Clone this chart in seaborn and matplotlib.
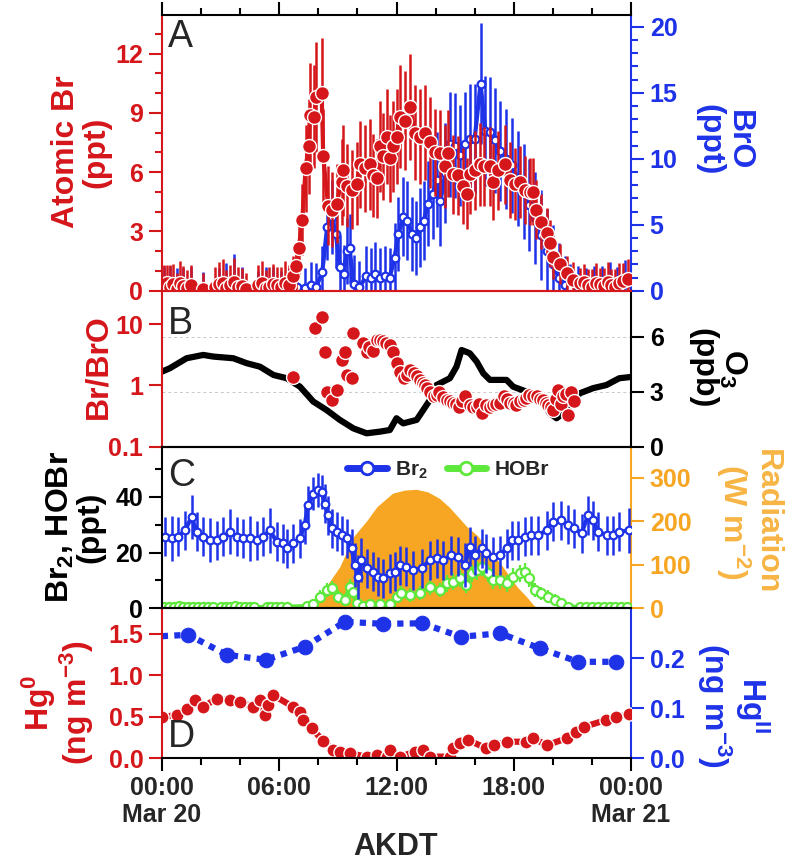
import numpy as np
import pandas as pd
import seaborn as sns
import matplotlib.pyplot as plt
from matplotlib.ticker import MultipleLocator, NullLocator, FixedLocator
from matplotlib.lines import Line2D

# ---- values, time in hours after 00:00 Mar 20 (AKDT) ----

# panel A: atomic Br (ppt, left axis)
br_hour = [0.1, 0.25, 0.4, 0.55, 0.75, 0.9, 1.1, 1.3, 1.5, 2.1, 2.7, 2.9, 3.1, 3.3, 3.5, 3.7, 3.9, 4.1, 4.3,
           4.9, 5.1, 5.3, 5.5, 5.7, 5.9, 6.1, 6.3, 6.5,
           6.7, 6.85, 7.0, 7.18, 7.35, 7.5, 7.57, 7.77, 7.9, 8.17, 8.25, 8.5, 8.68, 8.93, 9.19, 9.28, 9.45, 9.7,
           9.96, 10.13, 10.4, 10.64, 10.8, 11.0, 11.15, 11.3, 11.5, 11.66, 11.83, 12.0, 12.17, 12.43, 12.69,
           12.94, 13.2, 13.45, 13.7, 13.96, 14.22, 14.48, 14.65, 14.9, 15.16, 15.4, 15.6, 15.75, 16.0, 16.27,
           16.5, 16.78, 16.95, 17.2, 17.54, 17.8, 18.05, 18.3, 18.57, 18.82, 19.0, 19.16, 19.4, 19.7, 19.85,
           20.0, 20.36, 20.7, 21.04, 21.38, 21.6, 21.8, 22.0, 22.2, 22.4, 22.6, 22.8, 23.0, 23.2, 23.4, 23.6, 23.85]
br_ppt = [0.3, 0.4, 0.2, 0.35, 0.1, 0.4, 0.25, 0.15, 0.3, 0.1, 0.2, 0.35, 0.4, 0.15, 0.3, 0.45, 0.2, 0.25, 0.1,
          0.3, 0.4, 0.15, 0.2, 0.35, 0.3, 0.2, 0.4, 0.3,
          0.75, 1.25, 2.15, 3.6, 6.2, 7.3, 8.9, 8.8, 9.8, 10.0, 6.8, 4.3, 4.1, 4.4, 5.5, 6.1, 5.3, 5.1,
          5.4, 6.4, 6.2, 6.4, 5.85, 5.7, 7.3, 6.8, 7.8, 6.7, 7.3, 7.8, 8.8, 8.6, 9.3,
          8.0, 7.8, 8.0, 7.5, 7.0, 6.95, 6.3, 6.95, 5.9, 5.85, 5.3, 4.9, 5.9, 6.1, 6.4,
          6.3, 6.3, 5.5, 6.1, 6.4, 5.6, 5.4, 5.5, 5.1, 5.0, 5.0, 4.1, 3.5, 2.9, 2.4,
          1.7, 1.35, 0.88, 0.54, 0.37, 0.45, 0.3, 0.2, 0.4, 0.35, 0.25, 0.45, 0.3, 0.2, 0.4, 0.5, 0.6]
br_err = [1.0, 0.9, 1.1, 1.0, 0.8, 1.1, 1.0, 0.9, 1.0, 0.8, 1.0, 1.1, 1.2, 0.9, 1.0, 1.2, 1.0, 0.9, 0.8,
          1.0, 1.1, 0.9, 1.0, 1.0, 0.9, 1.0, 1.1, 1.0,
          1.0, 1.2, 1.5, 1.8, 2.2, 2.4, 2.6, 2.6, 2.8, 2.8, 2.4, 2.0, 1.9, 2.0, 2.2, 2.3, 2.1, 2.0,
          2.1, 2.2, 2.2, 2.3, 2.1, 2.0, 2.3, 2.2, 2.4, 2.2, 2.3, 2.4, 2.6, 2.5, 2.7,
          2.4, 2.4, 2.4, 2.3, 2.2, 2.2, 2.1, 2.2, 2.0, 2.0, 1.9, 1.8, 2.0, 2.0, 2.1,
          2.0, 2.0, 1.9, 2.0, 2.0, 1.9, 1.8, 1.8, 1.7, 1.7, 1.7, 1.5, 1.4, 1.3, 1.2,
          1.1, 1.0, 0.9, 0.9, 0.8, 0.9, 0.8, 0.9, 1.0, 0.8, 0.9, 1.0, 0.8, 0.9, 1.0, 0.9, 1.0]

# panel A: BrO (ppt, right axis)
bro_hour = [0.1, 0.4, 0.75, 1.1, 1.5, 2.1, 2.9, 3.3, 3.7, 4.1, 4.9, 5.3, 5.7, 6.1, 6.5,
            6.9, 7.3, 7.6, 7.9, 8.2, 8.45, 8.68, 8.9, 9.1, 9.3, 9.45, 9.6, 9.8, 10.1, 10.45, 10.7, 10.9,
            11.15, 11.4, 11.65, 11.9, 12.1, 12.35, 12.55, 12.8, 13.0, 13.2, 13.4, 13.6, 13.85, 14.05, 14.25,
            14.5, 14.75, 15.0, 15.25, 15.5, 15.75, 16.0, 16.3, 16.55, 16.8, 17.05, 17.3, 17.6, 17.9, 18.2,
            18.5, 18.8, 19.1, 19.4, 19.7, 20.0, 20.3, 20.6, 20.9, 21.3, 21.7, 22.1, 22.5, 22.9, 23.3, 23.7]
bro_ppt = [0.3, 0.5, 0.2, 0.4, 0.3, 0.2, 0.3, 0.5, 0.6, 0.3, 0.2, 0.4, 0.3, 0.2, 0.3,
           0.3, 0.2, 0.4, 0.3, 1.4, 4.8, 5.6, 4.3, 1.8, 1.3, 3.0, 3.2, 0.5, 0.25, 1.1, 1.0, 1.3,
           1.0, 1.1, 1.0, 2.5, 4.3, 5.6, 5.3, 4.3, 4.0, 4.8, 5.3, 6.6, 7.3, 8.4, 6.8,
           8.9, 11.1, 11.0, 10.25, 11.1, 11.5, 11.5, 15.7, 12.1, 12.0, 11.4, 10.6, 10.0, 9.5, 8.5,
           7.5, 6.5, 5.5, 4.2, 3.0, 2.0, 1.0, 0.4, 0.2, 0.3, 0.2, 0.4, 0.3, 0.2, 0.3, 0.5]
bro_err = [1.6, 1.4, 1.5, 1.3, 1.5, 1.2, 1.4, 1.6, 2.2, 1.5, 1.3, 1.4, 1.5, 1.3, 1.4,
           1.5, 1.5, 1.8, 1.8, 2.0, 2.5, 2.8, 2.6, 2.4, 2.2, 2.5, 2.6, 2.2, 2.0, 2.3, 2.2, 2.4,
           2.2, 2.3, 2.2, 2.6, 2.8, 3.0, 3.0, 2.8, 2.8, 3.0, 3.0, 3.2, 3.4, 3.6, 3.4,
           3.8, 4.0, 4.0, 3.8, 4.0, 4.2, 4.2, 4.6, 4.2, 4.2, 4.0, 3.8, 3.8, 3.6, 3.6,
           3.6, 3.5, 3.5, 3.4, 3.2, 3.0, 2.6, 2.2, 1.8, 1.6, 1.5, 1.5, 1.6, 2.0, 1.5, 1.8]

# panel B: Br/BrO ratio (left, log) and O3 (ppb, right)
ratio_hour = [6.72, 7.83, 8.17, 8.34, 8.42, 8.68, 8.93, 9.19, 9.36, 9.45, 9.7, 9.79, 10.3, 10.47, 10.6, 10.8,
              11.0, 11.15, 11.3, 11.45, 11.66, 11.83, 12.0, 12.17, 12.4, 12.55, 12.7, 12.9, 13.05, 13.2,
              13.35, 13.45, 13.55, 13.7, 13.9, 14.05, 14.2, 14.4, 14.6, 14.75, 14.9, 15.05, 15.2, 15.35,
              15.5, 15.75, 15.9, 16.1, 16.2, 16.35, 16.6, 16.8, 16.95, 17.1, 17.3, 17.5, 17.65, 17.8, 18.0,
              18.14, 18.3, 18.5, 18.65, 18.8, 19.0, 19.2, 19.35, 19.5, 19.65, 19.76, 19.9, 20.0, 20.15,
              20.27, 20.4, 20.5, 20.65, 20.8, 20.95, 21.1]
ratio = [1.38, 8.5, 13.2, 3.5, 0.79, 0.58, 0.84, 2.6, 3.5, 1.48, 1.3, 7.1, 4.9, 3.5, 4.2, 3.7,
         5.5, 5.6, 5.2, 5.0, 4.6, 3.5, 2.3, 1.67, 1.3, 1.5, 1.8, 1.6, 1.4, 1.23,
         1.1, 1.0, 0.9, 0.79, 0.66, 0.7, 0.79, 0.65, 0.58, 0.55, 0.51, 0.5, 0.45, 0.55,
         0.66, 0.48, 0.45, 0.45, 0.5, 0.35, 0.48, 0.44, 0.48, 0.5, 0.51, 0.66, 0.6, 0.51, 0.52,
         0.48, 0.55, 0.58, 0.62, 0.70, 0.68, 0.66, 0.6, 0.58, 0.52, 0.48, 0.44, 0.40, 0.6,
         0.84, 0.5, 0.66, 0.72, 0.33, 0.79, 0.55]
o3_hour = [0.0, 0.41, 1.26, 2.11, 2.63, 3.65, 4.33, 5.01, 5.7, 6.38, 7.06, 7.74, 8.42, 9.1, 9.79, 10.47,
           11.15, 11.66, 12.0, 12.34, 13.03, 13.37, 13.71, 14.05, 14.73, 15.07, 15.33, 15.75, 16.1, 16.44,
           16.78, 17.63, 17.97, 18.65, 19.33, 19.85, 20.19, 20.53, 21.38, 22.06, 22.74, 23.4, 24.0]
o3_ppb = [4.09, 4.28, 4.82, 5.0, 4.91, 4.82, 4.55, 4.36, 3.91, 3.73, 3.27, 2.46, 2.0, 1.46, 1.0, 0.73,
          0.82, 0.91, 1.55, 1.27, 1.46, 2.0, 2.55, 3.36, 3.73, 4.36, 5.27, 5.09, 4.64, 4.0,
          3.64, 3.64, 3.27, 3.0, 2.55, 1.82, 1.55, 1.82, 2.91, 3.19, 3.36, 3.73, 3.8]

# panel C: Br2, HOBr (ppt, left) and radiation (W m-2, right)
br2_hour = [0.15, 0.5, 0.84, 1.18, 1.52, 1.77, 2.11, 2.45, 2.8, 3.14, 3.48, 3.82, 4.16, 4.5, 4.84, 5.18,
            5.52, 5.87, 6.21, 6.38, 6.72, 7.06, 7.3, 7.48, 7.74, 8.0, 8.17, 8.34, 8.51, 8.68, 8.94, 9.19,
            9.45, 9.7, 9.87, 10.04, 10.2, 10.47, 10.8, 11.07, 11.32, 11.66, 11.92, 12.17, 12.5, 12.85,
            13.28, 13.7, 14.05, 14.39, 14.8, 15.16, 15.5, 15.75, 16.0, 16.35, 16.6, 16.95, 17.29, 17.63,
            17.9, 18.2, 18.57, 18.9, 19.25, 19.7, 20.0, 20.44, 20.78, 21.1, 21.47, 21.8, 22.06, 22.3,
            22.75, 23.1, 23.4, 23.9]
br2_ppt = [25.7, 25.1, 25.7, 28, 32.8, 27.5, 25.7, 24.5, 24.5, 25.7, 27.5, 25.7, 25.1, 25.1, 24.5, 25.7,
           28, 23.9, 23.3, 21.5, 23.3, 25.1, 29.9, 37, 41.2, 42.4, 41.8, 37.6, 33.4, 28.7, 27.5, 26.3,
           25.1, 21.5, 15.5, 11.3, 17.3, 14.3, 13.1, 11.3, 10.7, 12.5, 13.1, 15.5, 14.9, 13.7,
           14.3, 17.3, 17.9, 17.3, 19.1, 18.5, 15.5, 22.1, 19.1, 21.5, 19.7, 18.5, 19.1, 21.5,
           24.5, 24.5, 25.7, 26.3, 26.3, 28, 31.0, 31.6, 29.9, 28.7, 26.9, 33.4, 31.6, 27.5,
           26.3, 26.3, 27.5, 28]
br2_err = [7, 8, 7, 7, 8, 7, 7, 8, 7, 7, 8, 7, 7, 8, 7, 7,
           8, 7, 7, 7, 7, 7, 7, 7, 6, 6, 6, 7, 7, 7, 7, 7,
           7, 7, 8, 8, 8, 7, 7, 7, 7, 7, 7, 7, 7, 7,
           7, 7, 7, 7, 7, 7, 8, 7, 7, 7, 7, 7, 7, 7,
           7, 7, 7, 7, 7, 7, 7, 7, 7, 7, 7, 7, 7, 7,
           7, 7, 7, 8]
hobr_hour = [0.1, 0.35, 0.6, 0.85, 1.1, 1.35, 1.6, 1.85, 2.1, 2.35, 2.6, 3.0, 3.25, 3.5, 3.75, 4.0, 4.25,
             4.5, 4.7, 5.35, 5.6, 5.85, 6.1, 6.38, 7.4, 7.74, 8.08, 8.42, 8.68, 9.0, 9.36, 9.6, 9.79, 9.96,
             10.3, 10.64, 11.15, 11.66, 12.0, 12.25, 12.7, 13.2, 13.7, 14.22, 14.56, 14.9, 15.24, 15.58,
             15.84, 16.1, 16.35, 16.7, 16.95, 17.29, 17.63, 17.97, 18.3, 18.57, 18.8, 19.08, 19.42, 19.76,
             20.1, 20.44, 20.78, 21.4, 21.7, 22.0, 22.3, 22.6, 22.9, 23.2, 23.5, 23.8]
hobr_ppt = [0.5, 0.6, 0.4, 0.7, 0.5, 0.4, 0.6, 0.5, 0.3, 0.6, 0.5, 0.4, 0.6, 0.5, 0.7, 0.4, 0.5,
            0.6, 0.4, 0.5, 0.6, 0.4, 0.5, 0.6, 0.8, 1.4, 4.2, 6.6, 7.2, 4.2, 3.0, 7.8, 6.0, 2.0,
            0.8, 1.4, 1.4, 1.4, 4.2, 5.4, 4.8, 5.4, 7.7, 6.6, 9.0, 9.6, 10.7, 8.4,
            12.5, 13.7, 14.9, 12.5, 10.1, 10.1, 9.0, 11.3, 12.5, 13.1, 10.7, 6.6, 5.4, 4.2,
            3.0, 1.8, 0.6, 0.5, 0.4, 0.6, 0.5, 0.4, 0.6, 0.5, 0.4, 0.5]
hobr_err = [1.0, 1.1, 0.9, 1.0, 1.0, 1.1, 0.9, 1.0, 1.0, 1.0, 0.9, 1.0, 1.1, 1.0, 1.0, 0.9, 1.0,
            1.0, 1.1, 1.0, 1.0, 0.9, 1.0, 1.0, 1.5, 1.8, 2.2, 2.6, 2.6, 2.4, 2.2, 2.6, 2.5, 2.0,
            1.8, 1.8, 1.8, 2.0, 2.3, 2.5, 2.4, 2.5, 2.8, 2.6, 3.0, 3.0, 3.2, 3.0,
            3.2, 3.4, 3.4, 3.2, 3.0, 3.0, 3.0, 3.2, 3.2, 3.3, 3.0, 2.6, 2.4, 2.2,
            2.0, 1.6, 1.2, 1.0, 1.0, 1.1, 0.9, 1.0, 1.0, 1.1, 0.9, 1.0]
rad_hour = [6.6, 7.0, 7.4, 7.9, 8.4, 9.1, 9.8, 10.5, 11.0, 11.8, 12.4, 13.0, 13.6, 14.2, 14.7, 15.2, 15.6,
            16.1, 16.5, 16.95, 17.4, 17.8, 18.2, 18.65, 19.0, 19.2]
rad_wm2 = [0, 3, 10, 27, 50, 96, 165, 203, 234, 265, 272, 274, 268, 253, 233, 208, 188,
           169, 148, 123, 98, 73, 48, 27, 8, 0]

# panel D: Hg0 (ng m-3, left) and HgII (ng m-3, right)
hg0_hour = [0.0, 0.75, 1.26, 1.69, 2.1, 2.8, 3.48, 3.99, 4.67, 5.0, 5.27, 5.44, 5.7, 6.72, 7.06, 7.23, 7.66,
            8.25, 8.76, 9.1, 9.6, 10.47, 11.0, 11.5, 11.66, 12.2, 12.94, 13.37, 13.7, 14.73, 14.9, 15.24,
            15.67, 16.6, 17.0, 17.63, 18.65, 19.0, 19.7, 20.7, 21.2, 21.6, 22.7, 23.25, 23.9]
hg0_conc = [0.50, 0.52, 0.60, 0.70, 0.62, 0.72, 0.70, 0.68, 0.62, 0.70, 0.52, 0.64, 0.76, 0.62, 0.56, 0.46,
            0.36, 0.21, 0.10, 0.08, 0.06, 0.02, 0.04, 0.02, 0.10, 0.02, 0.08, 0.10, 0.02, 0.02, 0.12, 0.18,
            0.22, 0.12, 0.16, 0.20, 0.20, 0.24, 0.16, 0.24, 0.32, 0.38, 0.46, 0.50, 0.53]
hg2_hour = [-0.65, 1.35, 3.31, 5.32, 7.3, 9.36, 11.3, 13.3, 15.3, 17.29, 19.33, 21.3, 23.25]
hg2_conc = [0.243, 0.247, 0.207, 0.197, 0.223, 0.273, 0.269, 0.27, 0.243, 0.25, 0.22, 0.193, 0.193]

# x axis labels
tick_hours = [0, 6, 12, 18, 24]
tick_text = ['00:00\nMar 20', '06:00', '12:00', '18:00', '00:00\nMar 21']

RED = '#d5161b'
BLUE = '#1e32e8'
GREEN = '#5fe83c'
ORANGE = '#f6a623'
ORANGE_TXT = '#f7b545'

sns.set_theme(style='ticks')
plt.rcParams['font.family'] = ['Liberation Sans', 'DejaVu Sans']
plt.rcParams['font.weight'] = 'bold'
plt.rcParams['mathtext.fontset'] = 'custom'
plt.rcParams['mathtext.rm'] = 'Liberation Sans:bold'
plt.rcParams['mathtext.bf'] = 'Liberation Sans:bold'
plt.rcParams['mathtext.it'] = 'Liberation Sans:bold'
plt.rcParams['mathtext.default'] = 'rm'

fig = plt.figure(figsize=(7.93, 8.65), dpi=100)
FW, FH = 793, 865


def box(top, bottom):
    return [162 / FW, 1 - bottom / FH, 469 / FW, (bottom - top) / FH]


axA = fig.add_axes(box(15, 290.7))
axB = fig.add_axes(box(290.7, 446.7), sharex=axA)
axC = fig.add_axes(box(446.7, 608.3), sharex=axA)
axD = fig.add_axes(box(608.3, 758.3), sharex=axA)
axA2, axB2, axC2, axD2 = axA.twinx(), axB.twinx(), axC.twinx(), axD.twinx()

for ax, ax2 in [(axA, axA2), (axB, axB2), (axC, axC2), (axD, axD2)]:
    # the left-axis data sits above the twin
    ax.set_zorder(ax2.get_zorder() + 1)
    ax.patch.set_visible(False)
    ax2.grid(axis='x', which='both', color='#c8c8c8', linestyle=(0, (3, 3)), linewidth=0.7)


def style_pair(ax, ax2, lc, rc, topc, botc):
    for s in ax.spines.values():
        s.set_linewidth(1.5)
    for s in ax2.spines.values():
        s.set_linewidth(1.5)
    ax.spines['left'].set_color(lc)
    ax.spines['right'].set_visible(False)
    ax.spines['top'].set_color(topc)
    ax.spines['bottom'].set_color(botc)
    ax2.spines['right'].set_color(rc)
    for s in ['left', 'top', 'bottom']:
        ax2.spines[s].set_visible(False)
    ax.tick_params(axis='y', which='major', colors=lc, length=9.5, width=1.5, labelsize=18, pad=4)
    ax.tick_params(axis='y', which='minor', colors=lc, length=5, width=1.5)
    ax2.tick_params(axis='y', which='major', colors=rc, length=9.5, width=1.5, labelsize=18, pad=4)
    ax2.tick_params(axis='y', which='minor', colors=rc, length=5, width=1.5)
    ax.tick_params(axis='x', which='both', bottom=False, top=False, labelbottom=False, labeltop=False)
    ax2.tick_params(axis='x', which='both', bottom=False, top=False, labelbottom=False, labeltop=False)


style_pair(axA, axA2, RED, BLUE, 'black', RED)
style_pair(axB, axB2, RED, 'black', RED, 'black')
style_pair(axC, axC2, 'black', ORANGE, 'black', 'black')
style_pair(axD, axD2, RED, BLUE, 'black', 'black')

# ---------------- panel A ----------------
dfA = pd.DataFrame({'hour': br_hour, 'ppt': br_ppt, 'err': br_err})
dfA2 = pd.DataFrame({'hour': bro_hour, 'ppt': bro_ppt, 'err': bro_err})
axA2.errorbar(dfA2['hour'], dfA2['ppt'], yerr=dfA2['err'], fmt='none', ecolor=BLUE, elinewidth=1.8)
sns.lineplot(data=dfA2, x='hour', y='ppt', ax=axA2, color=BLUE, lw=3, estimator=None, sort=False,
             marker='o', markersize=5.5, markerfacecolor='white', markeredgecolor=BLUE,
             markeredgewidth=1.6, legend=False)
axA.errorbar(dfA['hour'], dfA['ppt'], yerr=dfA['err'], fmt='none', ecolor=RED, elinewidth=1.8)
sns.lineplot(data=dfA, x='hour', y='ppt', ax=axA, color=RED, lw=3, estimator=None, sort=False,
             marker='o', markersize=10, markerfacecolor=RED, markeredgecolor='white',
             markeredgewidth=1.0, legend=False)
axA.set_ylim(0, 13.95)
axA.yaxis.set_major_locator(MultipleLocator(3))
axA.yaxis.set_minor_locator(MultipleLocator(1))
axA2.set_ylim(0, 20.9)
axA2.yaxis.set_major_locator(MultipleLocator(5))
axA2.yaxis.set_minor_locator(MultipleLocator(1))
axA.tick_params(axis='x', which='major', top=True, length=9.5, width=1.5, color='black')
axA.tick_params(axis='x', which='minor', top=True, length=5, width=1.5, color='black')

# ---------------- panel B ----------------
dfB = pd.DataFrame({'hour': ratio_hour, 'ratio': ratio})
dfB2 = pd.DataFrame({'hour': o3_hour, 'ppb': o3_ppb})
sns.lineplot(data=dfB2, x='hour', y='ppb', ax=axB2, color='black', lw=4.5, estimator=None,
             sort=False, legend=False)
sns.scatterplot(data=dfB, x='hour', y='ratio', ax=axB, color=RED, s=100, edgecolor='white',
                linewidth=1.0, legend=False, zorder=3)
axB.set_yscale('log')
axB.set_ylim(0.1, 35)
axB.yaxis.set_major_locator(FixedLocator([0.1, 1, 10]))
axB.yaxis.set_minor_locator(NullLocator())
axB.set_yticklabels(['0.1', '1', '10'])
axB2.set_ylim(0, 8.5)
axB2.set_yticks([0, 3, 6])
axB2.grid(axis='y', color='#c8c8c8', linestyle=(0, (3, 3)), linewidth=0.7)

# ---------------- panel C ----------------
dfC = pd.DataFrame({'hour': br2_hour, 'ppt': br2_ppt, 'err': br2_err})
dfH = pd.DataFrame({'hour': hobr_hour, 'ppt': hobr_ppt, 'err': hobr_err})
dfR = pd.DataFrame({'hour': rad_hour, 'wm2': rad_wm2})
axC2.fill_between(dfR['hour'], 0, dfR['wm2'], color=ORANGE, linewidth=0)
axC.errorbar(dfH['hour'], dfH['ppt'], yerr=dfH['err'], fmt='none', ecolor=GREEN, elinewidth=1.6)
sns.lineplot(data=dfH, x='hour', y='ppt', ax=axC, color=GREEN, lw=3, estimator=None, sort=False,
             marker='o', markersize=6.5, markerfacecolor='white', markeredgecolor=GREEN,
             markeredgewidth=1.6, legend=False)
axC.errorbar(dfC['hour'], dfC['ppt'], yerr=dfC['err'], fmt='none', ecolor=BLUE, elinewidth=1.8)
sns.lineplot(data=dfC, x='hour', y='ppt', ax=axC, color=BLUE, lw=3, estimator=None, sort=False,
             marker='o', markersize=5.5, markerfacecolor='white', markeredgecolor=BLUE,
             markeredgewidth=1.6, legend=False)
axC.set_ylim(0, 58)
axC.yaxis.set_major_locator(MultipleLocator(20))
axC.yaxis.set_minor_locator(MultipleLocator(10))
axC2.set_ylim(0, 372)
axC2.set_yticks([0, 100, 200, 300])
axC2.yaxis.set_minor_locator(NullLocator())
handles = [Line2D([], [], color=BLUE, lw=5, marker='o', ms=9, mfc='white', mec=BLUE, mew=2),
           Line2D([], [], color=GREEN, lw=5, marker='o', ms=9, mfc='white', mec=GREEN, mew=2)]
axC.legend(handles, ['Br$_2$', 'HOBr'], loc='center', bbox_to_anchor=(0.61, 0.856), ncol=2,
           frameon=False, fontsize=15, handlelength=1.9, handletextpad=0.4, columnspacing=0.9)

# ---------------- panel D ----------------
dfD = pd.DataFrame({'hour': hg0_hour, 'conc': hg0_conc})
dfD2 = pd.DataFrame({'hour': hg2_hour, 'conc': hg2_conc})
sns.lineplot(data=dfD2, x='hour', y='conc', ax=axD2, color=BLUE, lw=4.5, estimator=None, sort=False,
             marker='o', markersize=10.5, markerfacecolor=BLUE, markeredgecolor=BLUE,
             linestyle=(0, (1, 1)), dash_capstyle='butt', legend=False)
sns.lineplot(data=dfD, x='hour', y='conc', ax=axD, color=RED, lw=4.5, estimator=None, sort=False,
             marker='o', markersize=9.5, markerfacecolor=RED, markeredgecolor='white',
             markeredgewidth=1.0, legend=False)
axD.set_ylim(0, 1.81)
axD.set_yticks([0, 0.5, 1.0, 1.5])
axD.set_yticklabels(['0.0', '0.5', '1.0', '1.5'])
axD2.set_ylim(0, 0.3)
axD2.set_yticks([0, 0.1, 0.2])
axD2.set_yticklabels(['0.0', '0.1', '0.2'])

# shared time axis
axA.set_xlim(0, 24)
axA.xaxis.set_major_locator(FixedLocator(tick_hours))
axA.xaxis.set_minor_locator(MultipleLocator(2))
axD.set_xticks(tick_hours, labels=tick_text)
axD.tick_params(axis='x', which='major', bottom=True, labelbottom=True, length=9.5, width=1.5,
                color='black', labelsize=18, pad=3)
axD.tick_params(axis='x', which='minor', bottom=True, length=5, width=1.5, color='black')
for ax in [axA, axB, axC, axD, axA2, axB2, axC2, axD2]:
    ax.set_xlabel('')
    ax.set_ylabel('')

# panel letters
axA.text(0.012, 0.985, 'A', transform=axA.transAxes, fontsize=27, fontweight='normal', va='top')
axB.text(0.012, 0.9, 'B', transform=axB.transAxes, fontsize=27, fontweight='normal', va='top')
axC.text(0.012, 0.93, 'C', transform=axC.transAxes, fontsize=27, fontweight='normal', va='top')
axD.text(0.012, 0.02, 'D', transform=axD.transAxes, fontsize=27, fontweight='normal', va='bottom')


# axis titles
def label(x, y, s, color, rot):
    fig.text(x / FW, 1 - y / FH, s, color=color, rotation=rot, ha='center', va='center',
             fontsize=23, fontweight='bold', multialignment='center', linespacing=1.0)


label(81, 152, 'Atomic Br\n(ppt)', RED, 90)
label(98, 367, 'Br/BrO', RED, 90)
label(75, 527, 'Br$_2$, HOBr\n(ppt)', 'black', 90)
label(58, 703, 'Hg$^0$\n(ng m$^{-3}$)', RED, 90)
label(724, 140, 'BrO\n(ppt)', BLUE, 270)
label(718, 368, 'O$_3$\n(ppb)', 'black', 270)
label(748, 522, 'Radiation\n(W m$^{-2}$)', ORANGE_TXT, 270)
label(733, 705, 'Hg$^{II}$\n(ng m$^{-3}$)', BLUE, 270)
fig.text(396 / FW, 1 - 847 / FH, 'AKDT', ha='center', va='center', fontsize=22, fontweight='bold')

fig.savefig('out.png', dpi=100)
